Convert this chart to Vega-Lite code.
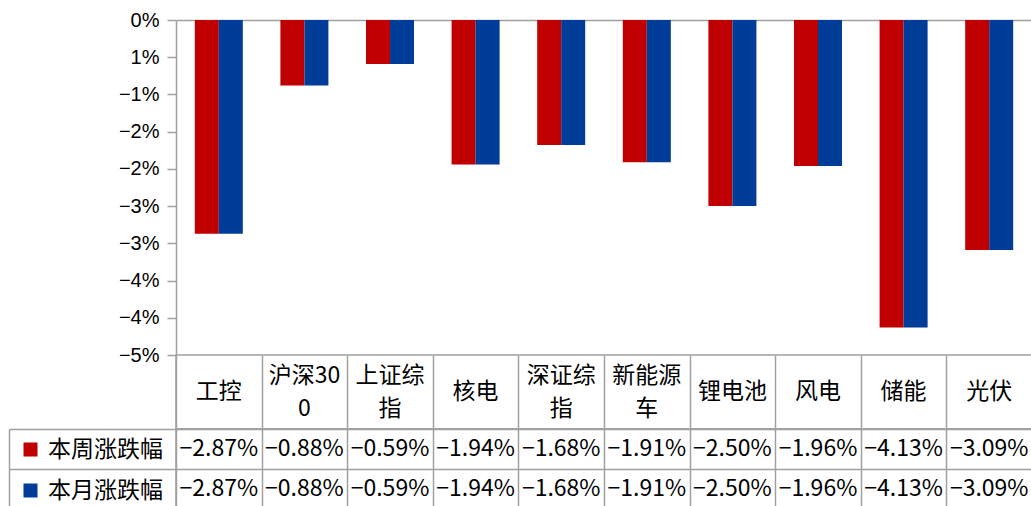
{
  "$schema": "https://vega.github.io/schema/vega-lite/v6.json",
  "padding": {"left": 7, "top": 10, "right": 0, "bottom": 0},
  "autosize": {"type": "pad"},
  "bounds": "flush",
  "spacing": 0,
  "background": "white",
  "config": {"view": {"stroke": null}, "font": "Noto Sans CJK SC"},
  "datasets": {
    "vals": [
      {"cat": "工控", "series": "本周涨跌幅", "value": -0.0287},
      {"cat": "工控", "series": "本月涨跌幅", "value": -0.0287},
      {"cat": "沪深300", "series": "本周涨跌幅", "value": -0.0088},
      {"cat": "沪深300", "series": "本月涨跌幅", "value": -0.0088},
      {"cat": "上证综指", "series": "本周涨跌幅", "value": -0.0059},
      {"cat": "上证综指", "series": "本月涨跌幅", "value": -0.0059},
      {"cat": "核电", "series": "本周涨跌幅", "value": -0.0194},
      {"cat": "核电", "series": "本月涨跌幅", "value": -0.0194},
      {"cat": "深证综指", "series": "本周涨跌幅", "value": -0.0168},
      {"cat": "深证综指", "series": "本月涨跌幅", "value": -0.0168},
      {"cat": "新能源车", "series": "本周涨跌幅", "value": -0.0191},
      {"cat": "新能源车", "series": "本月涨跌幅", "value": -0.0191},
      {"cat": "锂电池", "series": "本周涨跌幅", "value": -0.025},
      {"cat": "锂电池", "series": "本月涨跌幅", "value": -0.025},
      {"cat": "风电", "series": "本周涨跌幅", "value": -0.0196},
      {"cat": "风电", "series": "本月涨跌幅", "value": -0.0196},
      {"cat": "储能", "series": "本周涨跌幅", "value": -0.0413},
      {"cat": "储能", "series": "本月涨跌幅", "value": -0.0413},
      {"cat": "光伏", "series": "本周涨跌幅", "value": -0.0309},
      {"cat": "光伏", "series": "本月涨跌幅", "value": -0.0309}
    ],
    "cats": [
      {"cat": "工控", "label": "工控", "lines": 1},
      {"cat": "沪深300", "label": "沪深30\n0", "lines": 2},
      {"cat": "上证综指", "label": "上证综\n指", "lines": 2},
      {"cat": "核电", "label": "核电", "lines": 1},
      {"cat": "深证综指", "label": "深证综\n指", "lines": 2},
      {"cat": "新能源车", "label": "新能源\n车", "lines": 2},
      {"cat": "锂电池", "label": "锂电池", "lines": 1},
      {"cat": "风电", "label": "风电", "lines": 1},
      {"cat": "储能", "label": "储能", "lines": 1},
      {"cat": "光伏", "label": "光伏", "lines": 1}
    ]
  },
  "vconcat": [
    {
      "width": 856,
      "height": 335,
      "data": {"name": "vals"},
      "mark": {"type": "bar"},
      "encoding": {
        "x": {"field": "cat", "type": "nominal", "sort": null,
          "scale": {"domain": ["工控", "沪深300", "上证综指", "核电", "深证综指", "新能源车", "锂电池", "风电", "储能", "光伏"], "paddingInner": 0, "paddingOuter": 0},
          "axis": {"orient": "top", "title": null, "labels": false, "ticks": false, "domain": true, "domainColor": "#A0A0A0", "domainWidth": 1.5, "grid": false}},
        "xOffset": {"field": "series", "type": "nominal", "sort": null,
          "scale": {"domain": ["本周涨跌幅", "本月涨跌幅"], "paddingInner": 0, "paddingOuter": 0.783}},
        "y": {"field": "value", "type": "quantitative",
          "scale": {"domain": [-0.045, 0], "nice": false},
          "axis": {"title": null, "grid": false,
            "values": [0, -0.005, -0.01, -0.015, -0.02, -0.025, -0.03, -0.035, -0.04, -0.045],
            "labelExpr": "['0%','1%','−1%','−2%','−2%','−3%','−3%','−4%','−4%','−5%'][round(-datum.value*200)]",
            "tickSize": 9, "tickColor": "#A0A0A0", "tickWidth": 1.5,
            "domainColor": "#A0A0A0", "domainWidth": 1.5,
            "labelFont": "Liberation Sans", "labelFontSize": 20, "labelColor": "#000000", "labelPadding": 8}},
        "color": {"field": "series", "type": "nominal", "sort": null,
          "scale": {"domain": ["本周涨跌幅", "本月涨跌幅"], "range": ["#C00000", "#003D99"]},
          "legend": {"title": null, "orient": "none", "legendX": -157, "legendY": 418, "direction": "vertical",
            "symbolType": "square", "symbolSize": 196, "symbolStrokeWidth": 0,
            "labelFont": "Noto Sans CJK SC", "labelFontSize": 23, "labelColor": "#000000",
            "labelOffset": 6, "rowPadding": 17, "padding": 0}}
      }
    },
    {
      "width": 856,
      "height": 74,
      "data": {"name": "cats"},
      "view": {"stroke": "#A0A0A0", "strokeWidth": 1.5},
      "encoding": {
        "x": {"field": "cat", "type": "nominal", "sort": null,
          "scale": {"domain": ["工控", "沪深300", "上证综指", "核电", "深证综指", "新能源车", "锂电池", "风电", "储能", "光伏"], "paddingInner": 0, "paddingOuter": 0},
          "axis": {"orient": "bottom", "title": null, "labels": false, "ticks": false, "domain": false, "grid": true, "tickBand": "extent", "gridColor": "#A0A0A0", "gridWidth": 1.5}},
        "text": {"field": "label"}
      },
      "layer": [
        {
          "transform": [{"filter": "datum.lines == 1"}],
          "mark": {"type": "text", "font": "Noto Sans CJK SC", "fontSize": 23, "baseline": "middle", "color": "#000000"}
        },
        {
          "transform": [{"filter": "datum.lines == 2"}],
          "mark": {"type": "text", "font": "Noto Sans CJK SC", "fontSize": 23, "lineBreak": "\n", "lineHeight": 33, "baseline": "middle", "dy": -16, "color": "#000000"}
        }
      ]
    },
    {
      "width": 856,
      "height": 80,
      "data": {"name": "vals"},
      "view": {"stroke": "#A0A0A0", "strokeWidth": 1.5},
      "mark": {"type": "text", "font": "Noto Sans CJK SC", "fontSize": 23, "color": "#000000"},
      "encoding": {
        "x": {"field": "cat", "type": "nominal", "sort": null,
          "scale": {"domain": ["工控", "沪深300", "上证综指", "核电", "深证综指", "新能源车", "锂电池", "风电", "储能", "光伏"], "paddingInner": 0, "paddingOuter": 0},
          "axis": {"orient": "bottom", "title": null, "labels": false, "ticks": false, "domain": false, "grid": true, "tickBand": "extent", "gridColor": "#A0A0A0", "gridWidth": 1.5}},
        "y": {"field": "series", "type": "nominal", "sort": null,
          "scale": {"domain": ["本周涨跌幅", "本月涨跌幅"], "paddingInner": 0, "paddingOuter": 0},
          "axis": {"orient": "left", "title": null, "labels": false, "offset": 167,
            "domain": true, "domainColor": "#A0A0A0", "domainWidth": 1.5,
            "ticks": true, "tickSize": -167, "tickColor": "#A0A0A0", "tickWidth": 1.5, "tickBand": "extent",
            "grid": true, "gridColor": "#A0A0A0", "gridWidth": 1.5}},
        "text": {"field": "value", "type": "quantitative", "format": ".2%"}
      }
    }
  ]
}
